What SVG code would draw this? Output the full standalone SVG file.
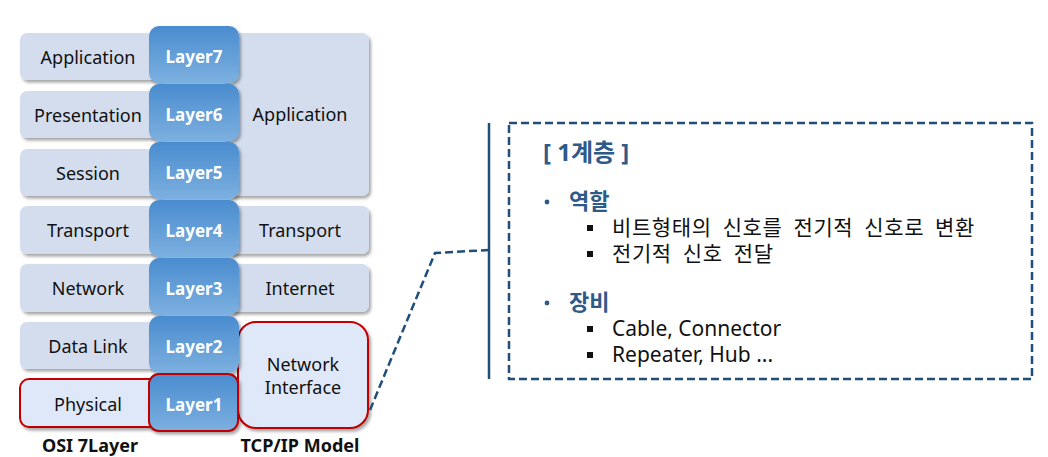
<svg xmlns="http://www.w3.org/2000/svg" width="1048" height="457" viewBox="0 0 1048 457">
<defs>
  <linearGradient id="lg" x1="0" y1="0" x2="0" y2="1">
    <stop offset="0" stop-color="#4a8ccf"/>
    <stop offset="1" stop-color="#7cb0e0"/>
  </linearGradient>
  <filter id="sh" x="-10%" y="-10%" width="130%" height="140%">
    <feDropShadow dx="2" dy="2.5" stdDeviation="1.5" flood-color="#000" flood-opacity="0.35"/>
  </filter>
</defs>
<style>
  .box{fill:#d3ddee;filter:url(#sh)}
  .hl{fill:#dfe8f8;stroke:#c00000;stroke-width:2;filter:url(#sh)}
  .layer{fill:url(#lg);filter:url(#sh)}
  .lbl{font-family:"Noto Sans","Liberation Sans",sans-serif;font-size:18px;fill:#111;text-anchor:middle;dominant-baseline:central}
  .lay{font-family:"Noto Sans","Liberation Sans",sans-serif;font-size:17px;font-weight:bold;fill:#fff;text-anchor:middle;dominant-baseline:central}
  .cap{font-family:"Noto Sans","Liberation Sans",sans-serif;font-size:18px;font-weight:bold;fill:#111;text-anchor:middle}
  .kt{font-family:"Noto Sans","Noto Sans CJK KR",sans-serif;font-size:21px;fill:#111;word-spacing:5px;letter-spacing:0.6px}
  .lt{font-family:"Noto Sans","Noto Sans CJK KR",sans-serif;font-size:21px;fill:#111}
  .kh{font-family:"Noto Sans","Noto Sans CJK KR",sans-serif;font-size:22px;font-weight:bold;fill:#2e5a8a}
  .hd{font-family:"Noto Sans","Noto Sans CJK KR",sans-serif;font-size:24px;font-weight:bold;fill:#2e5a8a}
  .dot{fill:#2e5a8a}
  .sq{fill:#111}
  .dash{fill:none;stroke:#1f4e79;stroke-width:2.5;stroke-dasharray:8 4}
</style>

<g id="tcp-application"><rect class="box" x="225" y="33" width="144" height="163" rx="7"/><text class="lbl" x="300" y="114">Application</text></g>
<g id="tcp-transport"><rect class="box" x="225" y="206" width="144" height="48" rx="7"/><text class="lbl" x="300" y="230">Transport</text></g>
<g id="tcp-internet"><rect class="box" x="225" y="264" width="144" height="48" rx="7"/><text class="lbl" x="300" y="288">Internet</text></g>
<g id="tcp-netif"><rect class="hl" x="238" y="322" width="130" height="106" rx="18"/><text class="lbl" x="303" y="364">Network</text><text class="lbl" x="303" y="387">Interface</text></g>

<g id="osi-application"><rect class="box" x="20" y="33" width="145" height="47" rx="7"/><text class="lbl" x="88" y="57">Application</text></g>
<g id="osi-presentation"><rect class="box" x="20" y="91" width="145" height="47" rx="7"/><text class="lbl" x="88" y="115">Presentation</text></g>
<g id="osi-session"><rect class="box" x="20" y="149" width="145" height="47" rx="7"/><text class="lbl" x="88" y="173">Session</text></g>
<g id="osi-transport"><rect class="box" x="20" y="206" width="145" height="48" rx="7"/><text class="lbl" x="88" y="230">Transport</text></g>
<g id="osi-network"><rect class="box" x="20" y="264" width="145" height="48" rx="7"/><text class="lbl" x="88" y="288">Network</text></g>
<g id="osi-datalink"><rect class="box" x="20" y="322" width="145" height="47" rx="7"/><text class="lbl" x="88" y="346">Data Link</text></g>
<g id="osi-physical"><rect class="hl" x="20" y="379" width="145" height="48" rx="9"/><text class="lbl" x="88" y="404">Physical</text></g>

<g id="layer7"><rect class="layer" x="149" y="26" width="90" height="57" rx="10"/><text class="lay" x="194" y="56">Layer7</text></g>
<g id="layer6"><rect class="layer" x="149" y="84" width="90" height="57" rx="10"/><text class="lay" x="194" y="114">Layer6</text></g>
<g id="layer5"><rect class="layer" x="149" y="142" width="90" height="57" rx="10"/><text class="lay" x="194" y="172">Layer5</text></g>
<g id="layer4"><rect class="layer" x="149" y="200" width="90" height="57" rx="10"/><text class="lay" x="194" y="230">Layer4</text></g>
<g id="layer3"><rect class="layer" x="149" y="258" width="90" height="57" rx="10"/><text class="lay" x="194" y="288">Layer3</text></g>
<g id="layer2"><rect class="layer" x="149" y="316" width="90" height="57" rx="10"/><text class="lay" x="194" y="346">Layer2</text></g>
<g id="layer1"><rect class="layer" x="149" y="374" width="89" height="57" rx="10" stroke="#c00000" stroke-width="2"/><text class="lay" x="194" y="404">Layer1</text></g>

<g id="captions">
  <text class="cap" x="90" y="452">OSI 7Layer</text>
  <text class="cap" x="300" y="452">TCP/IP Model</text>
</g>

<g id="connectors">
  <polyline class="dash" points="370,410 435,253 489,250"/>
  <line x1="489" y1="123" x2="489" y2="379" stroke="#1f4e79" stroke-width="2.5"/>
</g>

<g id="detail">
  <rect class="dash" x="509" y="123" width="523" height="256" stroke-width="2"/>
  <text class="hd" x="543" y="161">[ 1계층 ]</text>
  <circle class="dot" cx="547" cy="202" r="2.4"/>
  <text class="kh" x="569" y="209">역할</text>
  <rect class="sq" x="587" y="225" width="6" height="6"/>
  <text class="kt" x="612" y="235">비트형태의 신호를 전기적 신호로 변환</text>
  <rect class="sq" x="587" y="251" width="6" height="6"/>
  <text class="kt" x="612" y="261">전기적 신호 전달</text>
  <circle class="dot" cx="547" cy="303" r="2.4"/>
  <text class="kh" x="569" y="310">장비</text>
  <rect class="sq" x="587" y="326" width="6" height="6"/>
  <text class="lt" x="612" y="336">Cable, Connector</text>
  <rect class="sq" x="587" y="352" width="6" height="6"/>
  <text class="lt" x="612" y="362">Repeater, Hub ...</text>
</g>
</svg>
